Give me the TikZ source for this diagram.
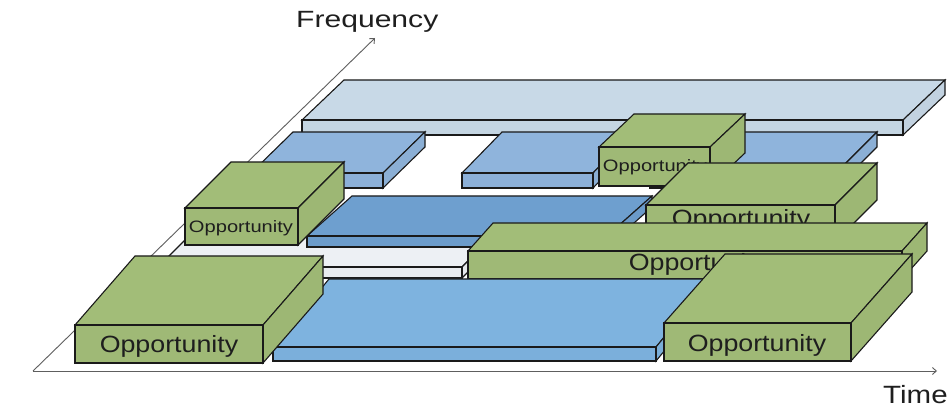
\documentclass[tikz,border=0pt]{standalone}
\usepackage{fontspec}
\setmainfont{Liberation Sans}
\usepackage{graphicx}
\usetikzlibrary{arrows.meta}
\definecolor{cGreen}{HTML}{A2BD78}
\definecolor{cLight}{HTML}{C8D9E7}
\definecolor{cBlueA}{HTML}{8FB4DC}
\definecolor{cBlueB}{HTML}{6E9FCF}
\definecolor{cBlueC}{HTML}{7EB3DF}
\definecolor{cGray}{HTML}{EDF0F4}
\definecolor{cAxis}{HTML}{5E5E5E}
\definecolor{cTxt}{HTML}{1E1E1E}
\definecolor{cEdge}{HTML}{1A1A1A}
% prism: x1, x2, ytop, ybot, dx, dy, colour
\newcommand\prism[7]{%
  \filldraw[boxedge, fill=#7] (#1,#3) -- (#2,#3) -- ++(#5,#6) -- ++({#1-#2},0) -- cycle;
  \filldraw[boxedge, fill=#7!97!black] (#2,#3) -- ++(#5,#6) -- ++(0,{#4-#3}) -- (#2,#4) -- cycle;
  \filldraw[boxedge, fill=#7!98!black] (#1,#3) rectangle (#2,#4);
}
\newcommand\bigopp[3]{\node[opptext, anchor=base] (#1) at (#2,#3) {\fontsize{23.5}{24}\selectfont\scalebox{1.14}[1]{Opportunity}};}
\newcommand\smallopp[3]{\node[opptext, anchor=base] (#1) at (#2,#3) {\fontsize{16.5}{17}\selectfont\scalebox{1.22}[1]{Opportunity}};}
\begin{document}
\begin{tikzpicture}[x=1pt,y=-1pt,
  boxedge/.style={draw=cEdge, line width=1.1pt, line join=miter},
  opptext/.style={inner sep=0pt, text=cTxt},
  axisline/.style={draw=cAxis, line width=0.9pt, -{Straight Barb[length=4pt,width=7pt]}}]
\useasboundingbox (0,0) rectangle (949,411);
\fill[white] (0,0) rectangle (949,411);
% axes
\coordinate (origin) at (33,371);
\coordinate (tend) at (937,371);
\coordinate (fend) at (375,38);
\draw[axisline] (origin) -- (tend);
\draw[axisline] (origin) -- (fend);
\node[anchor=base west, inner sep=0pt, text=cTxt] (freq) at (296,28) {\fontsize{23.5}{24}\selectfont\scalebox{1.28}[1]{Frequency}};
\node[anchor=base west, inner sep=0pt, text=cTxt] (time) at (883,403) {\fontsize{25}{26}\selectfont\scalebox{1.18}[1]{Time}};
% back slab
\prism{302}{903}{120}{135}{42}{-40}{cLight}
% upper row of blue boxes
\prism{251}{383}{173}{188}{42}{-41}{cBlueA}
\prism{462}{593}{173}{188}{40}{-41}{cBlueA}
\prism{650}{836}{173}{188}{41}{-41}{cBlueA}
% small upper-right opportunity
\prism{599}{710}{147}{186}{35}{-33}{cGreen}
\smallopp{oppUR}{655}{172}
% grey slab
\prism{158}{462}{267}{278}{40}{-40}{cGray}
% middle blue box
\prism{307}{607}{236}{247}{45}{-40}{cBlueB}
% small upper-left opportunity
\prism{185}{298}{208}{245}{46}{-46}{cGreen}
\smallopp{oppUL}{241}{233}
% right-middle opportunity
\prism{646}{835}{205}{242}{42}{-42}{cGreen}
\bigopp{oppRM}{741}{227}
% long opportunity
\prism{468}{902}{251}{279}{25}{-28}{cGreen}
\bigopp{oppLong}{698}{271}
% bottom blue
\prism{273}{656}{347}{361}{56}{-68}{cBlueC}
% bottom-left opportunity
\prism{75}{263}{325}{363}{60}{-69}{cGreen}
\bigopp{oppBL}{169}{352}
% bottom-right opportunity
\prism{664}{851}{323}{361}{61}{-69}{cGreen}
\bigopp{oppBR}{757}{351}
\end{tikzpicture}
\end{document}
